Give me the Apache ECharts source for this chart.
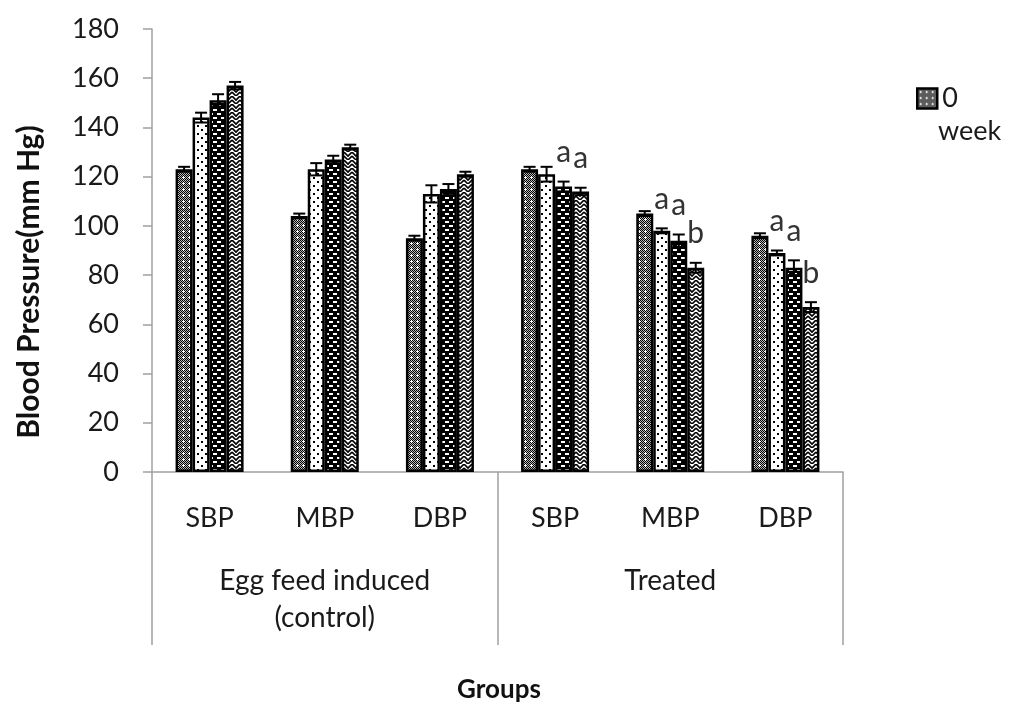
<!DOCTYPE html>
<html>
<head>
<meta charset="utf-8">
<script src="https://cdn.jsdelivr.net/npm/echarts@6/dist/echarts.min.js"></script>
<style>html,body{margin:0;padding:0;background:#fff}#c{width:1012px;height:702px}</style>
</head>
<body>
<div id="c"></div>
<script>
// ---------- data ----------
const categories = ['SBP', 'MBP', 'DBP', 'SBP', 'MBP', 'DBP'];
const groupLabels = ['Egg feed induced\n(control)', 'Treated'];
const seriesNames = ['0 week', '2 week', '4 week', '6 week'];
const week0 = [123, 104, 95, 123, 105, 96];
const week2 = [144, 123, 113, 121, 98, 89];
const week4 = [151, 127, 115, 116, 94, 83];
const week6 = [157, 132, 121, 114, 83, 67];
const err0 = [1, 1, 1, 1, 1, 1];
const err2 = [2, 2.5, 3.5, 3, 1, 1];
const err4 = [2.5, 1.5, 2, 2, 2.5, 3];
const err6 = [1.5, 1, 1, 1.5, 2, 2];
const note0 = ['', '', '', '', '', ''];
const note2 = ['', '', '', '', 'a', 'a'];
const note4 = ['', '', '', 'a', 'a', 'a'];
const note6 = ['', '', '', 'a', 'b', 'b'];
const yTicks = [0, 20, 40, 60, 80, 100, 120, 140, 160, 180];

const values = [week0, week2, week4, week6];
const errors = [err0, err2, err4, err6];
const notes = [note0, note2, note4, note6];

// ---------- patterns ----------
function tile(w, h, draw) {
  const c = document.createElement('canvas');
  c.width = w; c.height = h;
  const g = c.getContext('2d');
  draw(g);
  return { image: c, repeat: 'repeat' };
}
const pat = [
  tile(6, 6, g => {
    g.fillStyle = '#b8b8b8'; g.fillRect(0, 0, 6, 6);
    g.fillStyle = '#000';
    for (let y = 0; y < 6; y++) for (let x = 0; x < 6; x++) if ((x + y) % 2 === 0) g.fillRect(x, y, 1, 1);
    g.fillStyle = '#fff';
    g.fillRect(3, 2, 1, 3); g.fillRect(2, 3, 3, 1);
  }),
  tile(8, 8, g => {
    g.fillStyle = '#fff'; g.fillRect(0, 0, 8, 8);
    g.fillStyle = '#000';
    g.fillRect(1, 1, 2, 2); g.fillRect(5, 5, 2, 2);
  }),
  tile(8, 8, g => {
    g.fillStyle = '#000'; g.fillRect(0, 0, 8, 8);
    g.fillStyle = '#fff';
    g.fillRect(1, 1, 4, 2); g.fillRect(5, 5, 3, 2); g.fillRect(0, 5, 1, 2);
  }),
  tile(8, 8, g => {
    g.fillStyle = '#fff'; g.fillRect(0, 0, 8, 8);
    g.strokeStyle = '#000'; g.lineWidth = 1.6;
    g.beginPath();
    g.moveTo(0, 0); g.lineTo(4, 4); g.lineTo(8, 0);
    g.moveTo(0, 4); g.lineTo(4, 8); g.lineTo(8, 4);
    g.moveTo(-2, -2); g.lineTo(0, 0);
    g.stroke();
  })
];

const FONT = 'Lato, "Open Sans", sans-serif';
const TXT = '#1a1a1a';
const BW = 17;

const barSeries = seriesNames.map((n, i) => ({
  name: n,
  type: 'bar',
  data: values[i],
  barWidth: BW,
  barGap: '0%',
  itemStyle: { color: pat[i], borderColor: '#000', borderWidth: 2.5 },
  z: 2
}));

const errData = [];
for (let s = 0; s < 4; s++) {
  for (let c = 0; c < categories.length; c++) {
    errData.push([c, values[s][c], errors[s][c], s, notes[s][c]]);
  }
}

const errSeries = {
  type: 'custom',
  name: 'err',
  data: errData,
  z: 5,
  silent: true,
  renderItem: function (params, api) {
    const c = api.value(0), v = api.value(1), e = api.value(2), s = api.value(3);
    const note = errData[params.dataIndex][4];
    const top = api.coord([c, v + e]);
    const bot = api.coord([c, v - e]);
    const x = top[0] + (s - 1.5) * BW;
    const cap = 6;
    const ls = { stroke: '#000', lineWidth: 2 };
    const children = [
      { type: 'line', shape: { x1: x, y1: top[1], x2: x, y2: bot[1] }, style: ls },
      { type: 'line', shape: { x1: x - cap, y1: top[1], x2: x + cap, y2: top[1] }, style: ls },
      { type: 'line', shape: { x1: x - cap, y1: bot[1], x2: x + cap, y2: bot[1] }, style: ls }
    ];
    if (note) {
      children.push({
        type: 'text',
        style: { text: note, x: x, y: top[1] - 14, align: 'center', verticalAlign: 'bottom',
          fontSize: 30, fontFamily: FONT, fill: '#333' }
      });
    }
    return { type: 'group', children: children };
  }
};

const chart = echarts.init(document.getElementById('c'), null, { renderer: 'canvas' });
chart.setOption({
  animation: false,
  backgroundColor: '#fff',
  textStyle: { fontFamily: FONT },
  grid: { left: 152, right: 169, top: 29, bottom: 230, containLabel: false },
  legend: {
    data: [{ name: '0 week', icon: 'rect' }],
    left: 911, top: 80,
    icon: 'rect',
    itemWidth: 20, itemHeight: 20,
    itemGap: 6,
    itemStyle: { borderColor: '#000', borderWidth: 2.5 },
    formatter: () => '0',
    textStyle: { fontSize: 27, fontFamily: FONT, color: TXT }
  },
  xAxis: [
    {
      type: 'category', data: categories, position: 'bottom',
      axisLine: { show: true, lineStyle: { color: '#a0a0a0', width: 1.5 } },
      axisTick: { show: false },
      axisLabel: { fontSize: 27, color: TXT, margin: 33, interval: 0, fontFamily: FONT }
    },
    {
      type: 'category', data: groupLabels, position: 'bottom',
      axisLine: { show: false },
      axisTick: { show: true, length: 173, lineStyle: { color: '#a0a0a0', width: 1.5 } },
      axisLabel: { fontSize: 28, color: TXT, margin: 90, lineHeight: 37, interval: 0, fontFamily: FONT }
    }
  ],
  yAxis: {
    type: 'value', min: 0, max: 180, interval: 20,
    axisLine: { show: true, lineStyle: { color: '#a0a0a0', width: 1.5 } },
    axisTick: { show: true, length: 9, lineStyle: { color: '#a0a0a0', width: 1.5 } },
    splitLine: { show: false },
    axisLabel: { fontSize: 27, color: TXT, margin: 33, fontFamily: FONT,
      formatter: v => (yTicks.indexOf(v) >= 0 ? String(v) : '') }
  },
  graphic: [
    { type: 'text', x: 29, y: 282, rotation: Math.PI / 2,
      style: { text: 'Blood Pressure(mm Hg)', align: 'center', verticalAlign: 'middle',
        fontSize: 30, fontWeight: 'bold', fontFamily: FONT, fill: '#111' } },
    { type: 'text', x: 499, y: 690,
      style: { text: 'Groups', align: 'center', verticalAlign: 'middle',
        fontSize: 26, fontWeight: 'bold', fontFamily: FONT, fill: '#111' } },
    { type: 'text', x: 938, y: 131,
      style: { text: 'week', align: 'left', verticalAlign: 'middle',
        fontSize: 27, fontFamily: FONT, fill: TXT } }
  ],
  series: barSeries.concat([errSeries])
});
</script>
</body>
</html>
